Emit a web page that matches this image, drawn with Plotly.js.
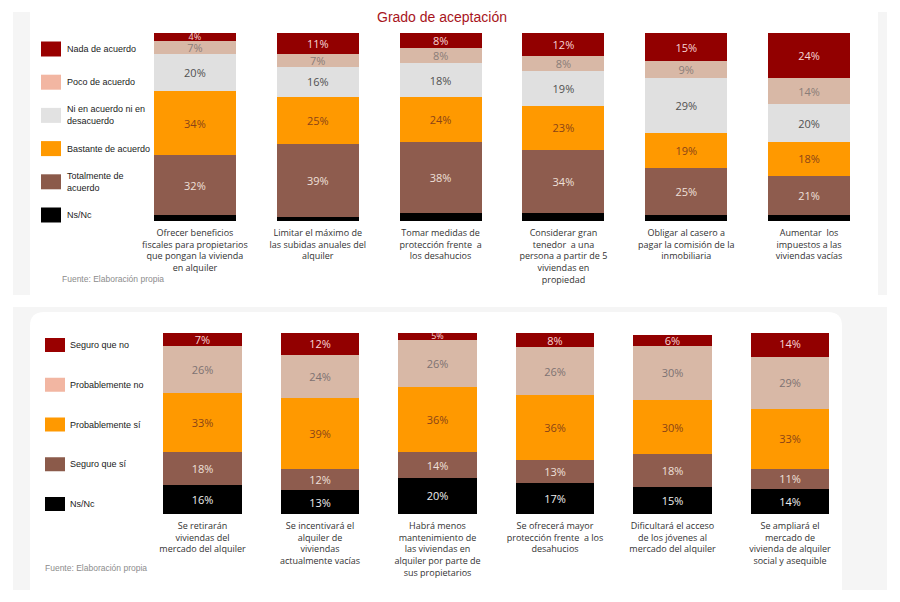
<!DOCTYPE html>
<html>
<head>
<meta charset="utf-8">
<script src="https://cdn.plot.ly/plotly-3.0.1.min.js"></script>
<style>
  html, body { margin: 0; padding: 0; background: #ffffff; }
  #chart { width: 900px; height: 602px; }
</style>
</head>
<body>
<div id="chart"></div>
<script>
// ---------- DATA ----------
const titleText = "Grado de aceptación";
const sourceText = "Fuente: Elaboración propia";

const topCategories = [
  "Ofrecer beneficios<br>fiscales para propietarios<br>que pongan la vivienda<br>en alquiler",
  "Limitar el máximo de<br>las subidas anuales del<br>alquiler",
  "Tomar medidas de<br>protección frente  a<br>los desahucios",
  "Considerar gran<br>tenedor  a una<br>persona a partir de 5<br>viviendas en<br>propiedad",
  "Obligar al casero a<br>pagar la comisión de la<br>inmobiliaria",
  "Aumentar  los<br>impuestos a las<br>viviendas vacías"
];
const topSeriesNames = ["Ns/Nc", "Totalmente de<br>acuerdo", "Bastante de acuerdo", "Ni en acuerdo ni en<br>desacuerdo", "Poco de acuerdo", "Nada de acuerdo"];
const topNsNc       = [3, 2, 4, 4, 3, 3];
const topTotalmente = [32, 39, 38, 34, 25, 21];
const topBastante   = [34, 25, 24, 23, 19, 18];
const topNi         = [20, 16, 18, 19, 29, 20];
const topPoco       = [7, 7, 8, 8, 9, 14];
const topNada       = [4, 11, 8, 12, 15, 24];

const botCategories = [
  "Se retirarán<br>viviendas del<br>mercado del alquiler",
  "Se incentivará el<br>alquiler de<br>viviendas<br>actualmente vacías",
  "Habrá menos<br>mantenimiento de<br>las viviendas en<br>alquiler por parte de<br>sus propietarios",
  "Se ofrecerá mayor<br>protección frente  a los<br>desahucios",
  "Dificultará el acceso<br>de los jóvenes al<br>mercado del alquiler",
  "Se ampliará el<br>mercado de<br>vivienda de alquiler<br>social y asequible"
];
const botSeriesNames = ["Ns/Nc", "Seguro que sí", "Probablemente sí", "Probablemente no", "Seguro que no"];
const botNsNc      = [16, 13, 20, 17, 15, 14];
const botSeguroSi  = [18, 12, 14, 13, 18, 11];
const botProbSi    = [33, 39, 36, 36, 30, 33];
const botProbNo    = [26, 24, 26, 26, 30, 29];
const botSeguroNo  = [7, 12, 5, 8, 6, 14];

// ---------- STYLE ----------
const topBarColors   = ["#000000", "#8e5c4e", "#ff9900", "#e0e0e0", "#d8b8a6", "#920000"];
const topSwatchColors= ["#000000", "#8b5a4a", "#ff9900", "#e2e2e2", "#f2b6a2", "#990000"];
const topTextColors  = ["#ffffff", "#eee0da", "#8a4418", "#505050", "#8a7d78", "#f6d6d6"];
const botBarColors   = ["#000000", "#8e5c4e", "#ff9900", "#d8b8a6", "#920000"];
const botSwatchColors= ["#000000", "#8b5a4a", "#ff9900", "#f2b6a2", "#990000"];
const botTextColors  = ["#eeeeee", "#eee0da", "#8a4418", "#7d7272", "#f6d6d6"];

const labelFont = "Liberation Sans Narrow, Liberation Sans, Arial, sans-serif";
const tickFont = "Open Sans, Noto Sans, sans-serif";

const topValues = [topNsNc, topTotalmente, topBastante, topNi, topPoco, topNada];
const botValues = [botNsNc, botSeguroSi, botProbSi, botProbNo, botSeguroNo];

// smaller labels on very thin segments so they do not collide
const sizeFor = v => (v <= 5 ? 9 : 11);

const traces = [];
topValues.forEach((vals, i) => {
  traces.push({
    type: "bar", x: topCategories, y: vals, name: topSeriesNames[i],
    xaxis: "x", yaxis: "y",
    marker: { color: topBarColors[i], line: { width: 0 } },
    text: i === 0 ? null : vals.map(v => v + "%"),
    textposition: i === 0 ? "none" : "inside",
    insidetextanchor: "middle",
    textangle: 0,
    constraintext: "none",
    textfont: { family: tickFont, size: vals.map(sizeFor), color: topTextColors[i] },
    showlegend: false, hoverinfo: "skip"
  });
});
botValues.forEach((vals, i) => {
  traces.push({
    type: "bar", x: botCategories, y: vals, name: botSeriesNames[i],
    xaxis: "x2", yaxis: "y2",
    marker: { color: botBarColors[i], line: { width: 0 } },
    text: vals.map(v => v + "%"),
    textposition: "inside",
    insidetextanchor: "middle",
    textangle: 0,
    constraintext: "none",
    textfont: { family: tickFont, size: vals.map(sizeFor), color: botTextColors[i] },
    showlegend: false, hoverinfo: "skip"
  });
});

// ---------- LAYOUT ----------
const W = 900, H = 602;
const px = x => x / W;
const py = y => 1 - y / H;

const shapes = [
  { type: "rect", xref: "paper", yref: "paper", x0: px(13), x1: px(887), y0: py(295), y1: py(12), fillcolor: "#f5f5f5", line: { width: 0 }, layer: "below" },
  { type: "rect", xref: "paper", yref: "paper", x0: px(30), x1: px(878), y0: py(295), y1: py(12), fillcolor: "#ffffff", line: { width: 0 }, layer: "below" },
  { type: "rect", xref: "paper", yref: "paper", x0: px(13), x1: px(887), y0: py(590), y1: py(307), fillcolor: "#f5f5f5", line: { width: 0 }, layer: "below" },
  { type: "path", xref: "paper", yref: "paper", layer: "below", fillcolor: "#ffffff", line: { width: 0 },
    path: (() => {
      const x0 = px(30), x1 = px(842), yt = py(312), yb = py(590), rx = px(14), ry = 14 / H;
      return `M ${x0} ${yb} L ${x0} ${yt - ry} Q ${x0} ${yt} ${x0 + rx} ${yt} L ${x1 - rx} ${yt} Q ${x1} ${yt} ${x1} ${yt - ry} L ${x1} ${yb} Z`;
    })()
  }
];
const annotations = [];

const topLegendOrder = [5, 4, 3, 2, 1, 0];
topLegendOrder.forEach((si, k) => {
  const cy = 49 + k * 33.2;
  shapes.push({ type: "rect", xref: "paper", yref: "paper", x0: px(41), x1: px(61), y0: py(cy + 7.5), y1: py(cy - 7.5), fillcolor: topSwatchColors[si], line: { width: 0 } });
  annotations.push({ xref: "paper", yref: "paper", x: px(65), y: py(cy), xanchor: "left", yanchor: "middle", align: "left",
    text: topSeriesNames[si], showarrow: false, font: { family: labelFont, size: 9, color: "#1a1a1a" } });
});
const botLegendOrder = [4, 3, 2, 1, 0];
botLegendOrder.forEach((si, k) => {
  const cy = 345 + k * 39.75;
  shapes.push({ type: "rect", xref: "paper", yref: "paper", x0: px(45), x1: px(65), y0: py(cy + 7), y1: py(cy - 7), fillcolor: botSwatchColors[si], line: { width: 0 } });
  annotations.push({ xref: "paper", yref: "paper", x: px(68), y: py(cy), xanchor: "left", yanchor: "middle", align: "left",
    text: botSeriesNames[si], showarrow: false, font: { family: labelFont, size: 9, color: "#1a1a1a" } });
});

annotations.push({ xref: "paper", yref: "paper", x: px(60), y: py(279), xanchor: "left", yanchor: "middle",
  text: sourceText, showarrow: false, font: { family: labelFont, size: 8.5, color: "#8c8c8c" } });
annotations.push({ xref: "paper", yref: "paper", x: px(43), y: py(568), xanchor: "left", yanchor: "middle",
  text: sourceText, showarrow: false, font: { family: labelFont, size: 8.5, color: "#8c8c8c" } });

const layout = {
  width: W, height: H,
  margin: { l: 0, r: 0, t: 0, b: 0 },
  paper_bgcolor: "#ffffff", plot_bgcolor: "rgba(0,0,0,0)",
  barmode: "stack",
  bargap: 0.333,
  showlegend: false,
  title: { text: titleText, x: 442 / W, xanchor: "center", y: py(17), yanchor: "middle",
    font: { family: labelFont, size: 14, color: "#a8151c" } },
  xaxis: { domain: [px(133.5), px(870.5)], anchor: "y", type: "category",
    showgrid: false, zeroline: false, showline: false, ticks: "", ticklen: 0, ticklabelstandoff: 5,
    tickfont: { family: tickFont, size: 9, color: "#333333" }, tickangle: 0, automargin: false, fixedrange: true },
  yaxis: { domain: [py(221), py(33)], range: [0, 100], visible: false, fixedrange: true },
  xaxis2: { domain: [px(143.75), px(848.75)], anchor: "y2", type: "category",
    showgrid: false, zeroline: false, showline: false, ticks: "", ticklen: 0, ticklabelstandoff: 5,
    tickfont: { family: tickFont, size: 9, color: "#333333" }, tickangle: 0, automargin: false, fixedrange: true },
  yaxis2: { domain: [py(514), py(333)], range: [0, 100], visible: false, fixedrange: true },
  shapes: shapes,
  annotations: annotations,
  hovermode: false
};

Plotly.newPlot("chart", traces, layout, { displayModeBar: false, staticPlot: true });
</script>
</body>
</html>
